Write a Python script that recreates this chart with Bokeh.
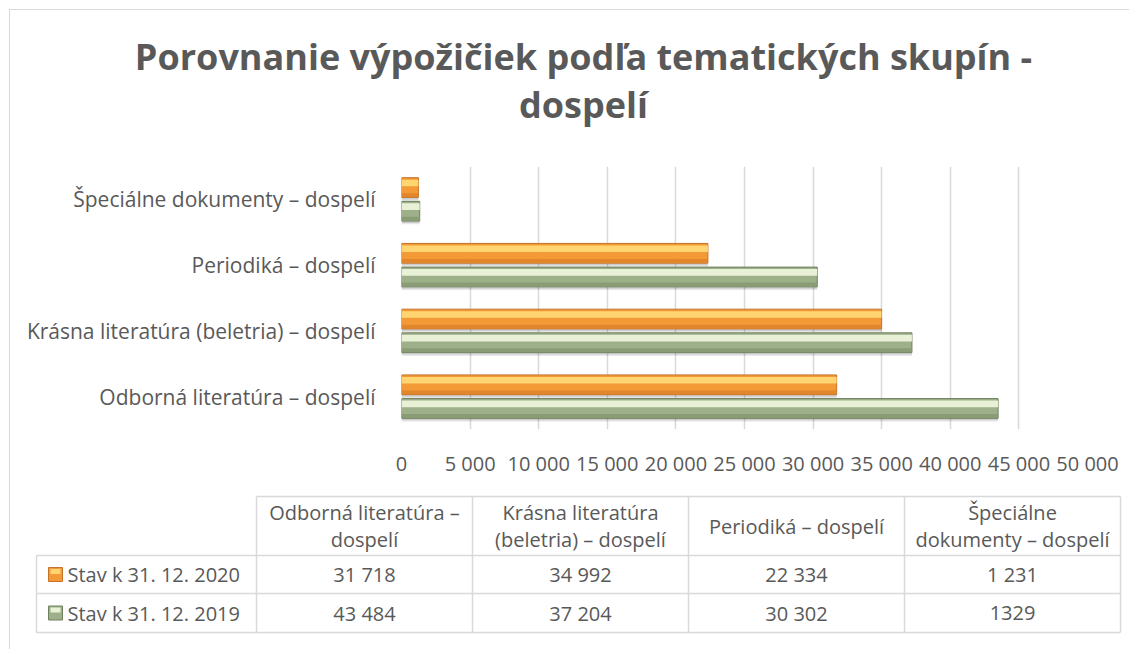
from bokeh.plotting import figure
from bokeh.models import FactorRange, Range1d, FixedTicker, ColumnDataSource
from bokeh.transform import dodge
from bokeh.embed import file_html
from bokeh.resources import INLINE
from bokeh.core.properties import value

# ---------------- data ----------------
categories = [
    "Odborná literatúra – dospelí",
    "Krásna literatúra (beletria) – dospelí",
    "Periodiká – dospelí",
    "Špeciálne dokumenty – dospelí",
]
values_2020 = [31718, 34992, 22334, 1231]
values_2019 = [43484, 37204, 30302, 1329]
series_names = ["Stav k 31. 12. 2020", "Stav k 31. 12. 2019"]
x_ticks = [0, 5000, 10000, 15000, 20000, 25000, 30000, 35000, 40000, 45000, 50000]
x_tick_labels = ["0", "5 000", "10 000", "15 000", "20 000", "25 000",
                 "30 000", "35 000", "40 000", "45 000", "50 000"]
table_headers = [
    "Odborná literatúra –\ndospelí",
    "Krásna literatúra\n(beletria) – dospelí",
    "Periodiká – dospelí",
    "Špeciálne\ndokumenty – dospelí",
]
table_text_2020 = ["31 718", "34 992", "22 334", "1 231"]
table_text_2019 = ["43 484", "37 204", "30 302", "1329"]
title_lines = ["Porovnanie výpožičiek podľa tematických skupín -", "dospelí"]

# ---------------- style ----------------
FONT = "Open Sans"
GRAY = "#595959"
GRID = "#d9d9d9"
FS = "20px"
OR_BASE, OR_LIGHT, OR_DARK, OR_EDGE = "#F39A37", "#FFDB78", "#E2862C", "#C4742A"
GR_BASE, GR_LIGHT, GR_DARK, GR_EDGE = "#9EB08A", "#EFF7DE", "#8A9C76", "#6F805E"
BORDER = "1px solid #d9d9d9"


def clean(fig):
    fig.outline_line_color = None
    fig.background_fill_color = "white"
    fig.border_fill_color = "white"


# ---------------- title ----------------
tf = figure(width=1120, height=140, x_range=Range1d(10, 1130), y_range=Range1d(150, 10),
            output_backend="svg", toolbar_location=None, title_location=None,
            x_axis_location=None, y_axis_location=None,
            min_border_left=0, min_border_right=0, min_border_top=0, min_border_bottom=0,
            styles={"margin-left": "9px", "margin-top": "9px",
                    "border-left": BORDER, "border-top": BORDER})
tf.grid.visible = False
clean(tf)
tf.text(x=[583, 583], y=[56, 104], text=title_lines, text_align="center",
        text_baseline="alphabetic", text_font=value(FONT), text_font_size="36px",
        text_font_style="bold", text_color=GRAY)

# ---------------- chart ----------------
src = ColumnDataSource(dict(cat=categories, v2020=values_2020, v2019=values_2019))

p = figure(width=1120, height=330,
           y_range=FactorRange(factors=categories), x_range=Range1d(0, 50000),
           output_backend="svg", toolbar_location=None, title_location=None,
           min_border_left=391, min_border_right=43,
           min_border_top=17, min_border_bottom=48,
           styles={"margin-left": "9px", "border-left": BORDER})
clean(p)

ticker = FixedTicker(ticks=x_ticks)
p.xaxis.ticker = ticker
p.xaxis.major_label_overrides = {t: l for t, l in zip(x_ticks, x_tick_labels)}
p.xgrid.ticker = ticker
p.xgrid.grid_line_color = GRID
p.xgrid.grid_line_width = 1.5
p.ygrid.visible = False
for ax in (p.xaxis, p.yaxis):
    ax.axis_line_color = None
    ax.major_tick_line_color = None
    ax.minor_tick_line_color = None
    ax.major_label_text_font = FONT
    ax.major_label_text_font_size = FS
    ax.major_label_text_color = GRAY
p.yaxis.major_label_text_font_size = "21px"
p.xaxis.major_label_standoff = 14
p.yaxis.major_label_standoff = 20

H = 0.30
for col, off, base, light, dark, edge in (
        ("v2020", 0.18, OR_BASE, OR_LIGHT, OR_DARK, OR_EDGE),
        ("v2019", -0.18, GR_BASE, GR_LIGHT, GR_DARK, GR_EDGE)):
    p.hbar(y=dodge("cat", off - 0.05, range=p.y_range), left=0, right=col, height=H,
           fill_color="black", fill_alpha=0.10, line_color=None, source=src)
    p.hbar(y=dodge("cat", off - 0.03, range=p.y_range), left=0, right=col, height=H,
           fill_color="black", fill_alpha=0.10, line_color=None, source=src)
    p.hbar(y=dodge("cat", off, range=p.y_range), left=0, right=col, height=H,
           fill_color=base, line_color=edge, line_width=1, source=src)
    p.hbar(y=dodge("cat", off - 0.115, range=p.y_range), left=0, right=col, height=0.06,
           fill_color=dark, line_color=None, source=src)
    p.hbar(y=dodge("cat", off + 0.07, range=p.y_range), left=0, right=col, height=0.10,
           fill_color=light, fill_alpha=0.9, line_color=None, source=src)

# ---------------- data table ----------------
tb = figure(width=1120, height=170, x_range=Range1d(10, 1130), y_range=Range1d(650, 480),
            output_backend="svg", toolbar_location=None, title_location=None,
            x_axis_location=None, y_axis_location=None,
            min_border_left=0, min_border_right=0, min_border_top=0, min_border_bottom=0,
            styles={"margin-left": "9px", "border-left": BORDER})
tb.grid.visible = False
clean(tb)

col_edges = [36, 256, 472, 688, 904, 1120]
row_edges = [497, 556, 594, 633]

x0, y0, x1, y1 = [], [], [], []
x0.append(col_edges[1]); x1.append(col_edges[-1]); y0.append(row_edges[0]); y1.append(row_edges[0])
for r in row_edges[1:]:
    x0.append(col_edges[0]); x1.append(col_edges[-1]); y0.append(r); y1.append(r)
x0.append(col_edges[0]); x1.append(col_edges[0]); y0.append(row_edges[1]); y1.append(row_edges[-1])
for c in col_edges[1:]:
    x0.append(c); x1.append(c); y0.append(row_edges[0]); y1.append(row_edges[-1])
tb.segment(x0=x0, y0=y0, x1=x1, y1=y1, line_color=GRID, line_width=1.5)

col_centers = [(col_edges[i] + col_edges[i + 1]) / 2 for i in range(1, 5)]
hdr_y = (row_edges[0] + row_edges[1]) / 2
r1_y = (row_edges[1] + row_edges[2]) / 2
r2_y = (row_edges[2] + row_edges[3]) / 2

hx, hy, ht = [], [], []
for cx, h in zip(col_centers, table_headers):
    lines = h.split("\n")
    n = len(lines)
    for i, ln in enumerate(lines):
        hx.append(cx)
        hy.append(hdr_y + (i - (n - 1) / 2) * 27)
        ht.append(ln)
tb.text(x=hx, y=hy, text=ht, text_align="center", text_baseline="middle",
        text_font=value(FONT), text_font_size=FS, text_color=GRAY)
tb.text(x=col_centers, y=[r1_y] * 4, text=table_text_2020, text_align="center",
        text_baseline="middle", text_font=value(FONT), text_font_size=FS, text_color=GRAY)
tb.text(x=col_centers, y=[r2_y] * 4, text=table_text_2019, text_align="center",
        text_baseline="middle", text_font=value(FONT), text_font_size=FS, text_color=GRAY)
tb.text(x=[67, 67], y=[r1_y, r2_y], text=series_names, text_align="left",
        text_baseline="middle", text_font=value(FONT), text_font_size=FS, text_color=GRAY)

tb.rect(x=[55, 55], y=[r1_y, r2_y], width=14, height=14,
        fill_color=[OR_BASE, GR_BASE], line_color=[OR_EDGE, GR_EDGE], line_width=1)
tb.rect(x=[55, 55], y=[r1_y - 3, r2_y - 3], width=10, height=5,
        fill_color=[OR_LIGHT, GR_LIGHT], fill_alpha=0.9, line_color=None)

open("out.html", "w").write(file_html([tf, p, tb], INLINE))
